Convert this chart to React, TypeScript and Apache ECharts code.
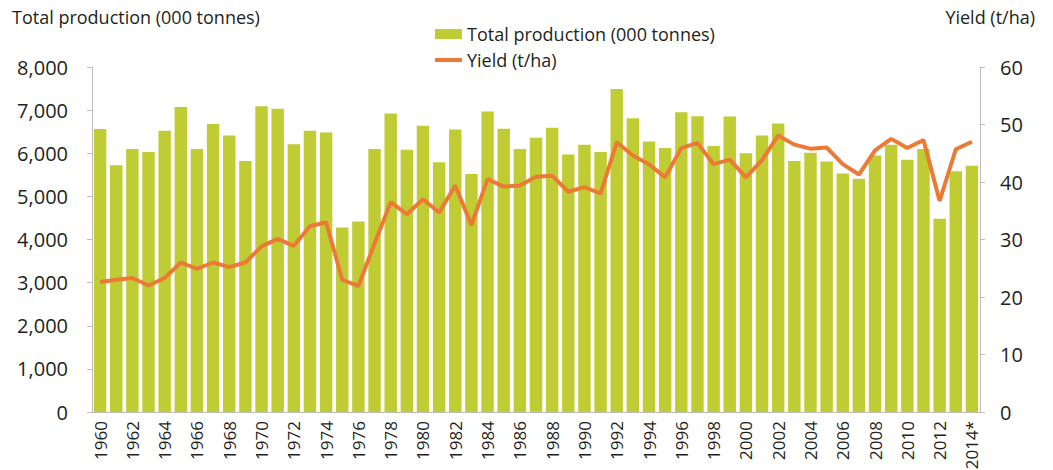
import React, { useEffect, useRef } from "react";
import * as echarts from "echarts";

const years: string[] = [
  "1960","1961","1962","1963","1964","1965","1966","1967","1968","1969",
  "1970","1971","1972","1973","1974","1975","1976","1977","1978","1979",
  "1980","1981","1982","1983","1984","1985","1986","1987","1988","1989",
  "1990","1991","1992","1993","1994","1995","1996","1997","1998","1999",
  "2000","2001","2002","2003","2004","2005","2006","2007","2008","2009",
  "2010","2011","2012","2013","2014*",
];

const production: number[] = [
  6560, 5720, 6100, 6030, 6520, 7070, 6100, 6680, 6410, 5820,
  7090, 7030, 6210, 6520, 6480, 4280, 4420, 6100, 6920, 6080,
  6640, 5790, 6550, 5520, 6970, 6570, 6100, 6360, 6590, 5970,
  6200, 6030, 7490, 6810, 6270, 6120, 6950, 6860, 6170, 6850,
  6000, 6410, 6690, 5820, 6010, 5810, 5530, 5410, 5950, 6200,
  5850, 6100, 4480, 5580, 5710,
];

const yieldVals: number[] = [
  22.6, 23.0, 23.3, 22.0, 23.3, 26.0, 24.9, 26.0, 25.2, 26.0,
  28.8, 30.1, 28.9, 32.3, 33.0, 23.0, 21.9, 29.3, 36.5, 34.4,
  37.0, 34.7, 39.4, 32.5, 40.5, 39.2, 39.4, 40.9, 41.1, 38.3,
  39.1, 38.0, 46.9, 44.6, 43.1, 40.8, 45.9, 46.8, 43.1, 43.9,
  40.8, 43.8, 48.1, 46.5, 45.8, 46.0, 43.1, 41.3, 45.5, 47.5,
  45.9, 47.3, 36.7, 45.7, 47.0,
];

const FONT = "'Open Sans', 'Noto Sans', sans-serif";
const TEXT = "#231f20";
const AXIS = "#bdbdbd";
const BAR = "#bfcc34";
const LINE = "#ec7a36";

export default function App() {
  const ref = useRef<HTMLDivElement>(null);
  useEffect(() => {
    if (!ref.current) return;
    const chart = echarts.init(ref.current, null, { renderer: "svg" });
    chart.setOption({
      animation: false,
      textStyle: { fontFamily: FONT, color: TEXT },
      grid: { left: 92, right: 73, top: 67, bottom: 58, containLabel: false, outerBoundsMode: "none" },
      legend: {
        orient: "vertical",
        left: 430,
        top: 20,
        itemWidth: 27,
        itemHeight: 10,
        itemGap: 8,
        symbolKeepAspect: true,
        textStyle: { fontFamily: FONT, fontSize: 18, color: TEXT },
        data: [
          { name: "Total production (000 tonnes)", icon: "rect" },
          { name: "Yield (t/ha)", icon: "path://M0,0h27v4h-27z" },
        ],
      },
      graphic: [
        {
          type: "text",
          left: 12,
          top: 8,
          style: { text: "Total production (000 tonnes)", fontFamily: FONT, fontSize: 18, fill: TEXT },
        },
        {
          type: "text",
          right: 18,
          top: 8,
          style: { text: "Yield (t/ha)", fontFamily: FONT, fontSize: 18, fill: TEXT },
        },
      ],
      xAxis: {
        type: "category",
        data: years,
        axisLine: { show: true, lineStyle: { color: AXIS, width: 1 } },
        axisTick: { show: false },
        axisLabel: {
          interval: 1,
          rotate: 90,
          margin: 9,
          fontSize: 17,
          color: TEXT,
          fontFamily: FONT,
        },
      },
      yAxis: [
        {
          type: "value",
          min: 0,
          max: 8000,
          interval: 1000,
          axisLine: { show: true, lineStyle: { color: AXIS } },
          axisTick: { show: true, length: 5, lineStyle: { color: AXIS } },
          splitLine: { show: false },
          axisLabel: {
            margin: 24,
            fontSize: 20,
            color: TEXT,
            fontFamily: FONT,
            formatter: (v: number) => v.toLocaleString("en-US"),
          },
        },
        {
          type: "value",
          min: 0,
          max: 60,
          interval: 10,
          position: "right",
          axisLine: { show: true, lineStyle: { color: AXIS } },
          axisTick: { show: true, length: 5, lineStyle: { color: AXIS } },
          splitLine: { show: false },
          axisLabel: { margin: 20, fontSize: 20, color: TEXT, fontFamily: FONT },
        },
      ],
      series: [
        {
          name: "Total production (000 tonnes)",
          type: "bar",
          data: production,
          barCategoryGap: "23%",
          itemStyle: { color: BAR },
        },
        {
          name: "Yield (t/ha)",
          type: "line",
          yAxisIndex: 1,
          data: yieldVals,
          symbol: "none",
          lineStyle: { color: LINE, width: 4 },
          itemStyle: { color: LINE },
        },
      ],
    });
    return () => chart.dispose();
  }, []);
  return <div ref={ref} style={{ width: 1053, height: 470, position: "absolute", left: 0, top: 0 }} />;
}
